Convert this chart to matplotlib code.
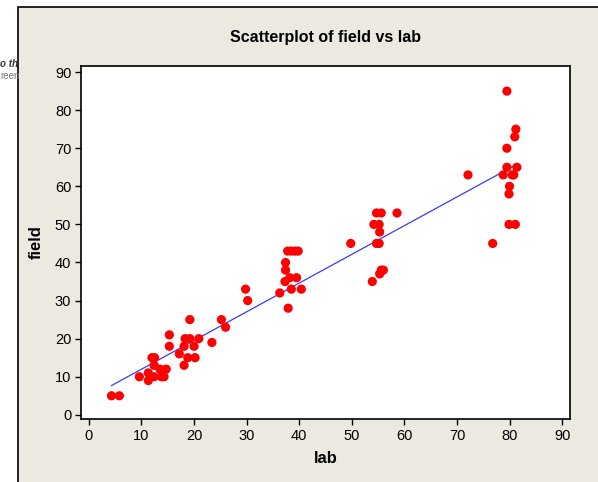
import numpy as np
import matplotlib.pyplot as plt
from matplotlib.patches import Rectangle

lab = [4.3, 5.8, 9.6, 11.3, 11.3, 12.4, 12.0, 12.5, 12.4, 13.5, 13.8, 14.3, 14.7,
       15.3, 15.3, 17.2, 18.1, 18.8, 18.1, 18.3, 19.2, 19.2, 20.0, 20.2, 20.9,
       23.4, 25.2, 26.0, 29.8, 30.2, 36.3, 37.3, 37.4, 37.4, 37.8, 38.5, 39.2,
       39.8, 37.9, 38.2, 38.5, 39.5, 40.4, 49.8, 53.9, 54.2, 54.7, 55.6, 58.6,
       55.2, 55.3, 54.7, 55.2, 55.3, 55.6, 56.0, 72.1, 76.8, 78.8, 79.5, 79.5,
       79.5, 80.5, 80.8, 80.0, 79.9, 79.9, 81.1, 81.4, 81.0, 81.2]
field = [5, 5, 10, 11, 9, 10, 15, 15, 13, 12, 10, 10, 12,
         21, 18, 16, 13, 15, 18, 20, 20, 25, 18, 15, 20,
         19, 25, 23, 33, 30, 32, 35, 38, 40, 43, 43, 43,
         43, 28, 36, 33, 36, 33, 45, 35, 50, 53, 53, 53,
         50, 48, 45, 45, 37, 38, 38, 63, 45, 63, 85, 70,
         65, 63, 63, 60, 58, 50, 50, 65, 73, 75]

xticks = list(range(0, 91, 10))
yticks = list(range(0, 91, 10))

plt.rcParams['font.family'] = ['Liberation Sans', 'DejaVu Sans']

fig = plt.figure(figsize=(5.98, 4.82), dpi=100, facecolor='white')
fig.patches.append(Rectangle((18 / 598, -0.01), 1.0, 1 - 7 / 482 + 0.01,
                             transform=fig.transFigure, facecolor='#ece9e0',
                             edgecolor='black', linewidth=1.2, zorder=-10))
fig.text(0.0, 1 - 64 / 482, 'o th', fontsize=7, fontweight='bold', style='italic',
         color='#333333', ha='left', va='center')
fig.text(0.0, 1 - 76 / 482, 'reen', fontsize=7, color='#777777', ha='left', va='center')

ax = fig.add_axes([81 / 598, 1 - 419 / 482, 489 / 598, 353 / 482])
ax.set_facecolor('white')

ax.scatter(lab, field, s=44, color='red', edgecolors='none', zorder=3)

slope, intercept = np.polyfit(lab, field, 1)
xs = np.array([min(lab), max(lab)])
ax.plot(xs, intercept + slope * xs, color='#3a3aff', lw=0.9, zorder=2)

ax.set_xlim(-1.5, 91.5)
ax.set_ylim(-1.1, 91.6)
ax.set_xticks(xticks)
ax.set_yticks(yticks)
ax.tick_params(direction='out', length=4, width=1, labelsize=10.5, pad=3)
for s in ax.spines.values():
    s.set_linewidth(1.2)

ax.set_title('Scatterplot of field vs lab', fontsize=11.5, fontweight='bold', pad=17)
ax.set_xlabel('lab', fontsize=12, fontweight='bold', labelpad=6)
ax.set_ylabel('field', fontsize=12, fontweight='bold', labelpad=8)

fig.savefig('out.png', dpi=100, facecolor=fig.get_facecolor())
